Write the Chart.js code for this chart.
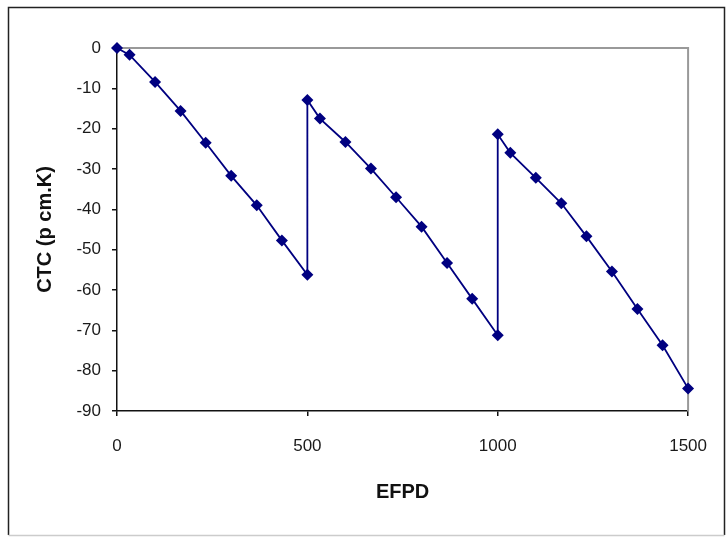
<!DOCTYPE html>
<html>
<head>
<meta charset="utf-8">
<script src="https://cdn.jsdelivr.net/npm/chart.js@4/dist/chart.umd.min.js"></script>
<style>
  body { margin: 0; background: #fff; }
  canvas { display: block; }
</style>
</head>
<body>
<canvas id="myChart" width="727" height="537"></canvas>
<script>
// values
var efpd = [0, 33, 100, 167, 233, 300, 367, 433, 500,
            500, 533, 600, 667, 733, 800, 867, 933, 1000,
            1000, 1033, 1100, 1167, 1233, 1300, 1367, 1433, 1500];
var ctc = [0, -1.7, -8.4, -15.6, -23.5, -31.7, -39.0, -47.7, -56.2,
           -12.9, -17.5, -23.3, -29.9, -37.0, -44.3, -53.3, -62.2, -71.2,
           -21.4, -26.0, -32.2, -38.5, -46.7, -55.4, -64.7, -73.7, -84.4];
var xTicks = [0, 500, 1000, 1500];
var yTitle = "CTC (p cm.K)";
var xTitle = "EFPD";

var points = [];
for (let i = 0; i < efpd.length; i++) {
    points[i] = { x: efpd[i], y: ctc[i] };
}

// outer frame + grey top/right edge of the plot area
var framePlugin = {
    id: 'frame',
    beforeDraw: function (chart) {
        let ctx = chart.ctx;
        ctx.save();
        ctx.fillStyle = '#fff';
        ctx.fillRect(0, 0, chart.width, chart.height);
        ctx.lineWidth = 1.5;
        ctx.strokeStyle = '#222';
        ctx.beginPath();
        ctx.moveTo(8.5, 535);
        ctx.lineTo(8.5, 7.5);
        ctx.lineTo(724.5, 7.5);
        ctx.lineTo(724.5, 535);
        ctx.stroke();
        ctx.strokeStyle = '#ccc';
        ctx.beginPath();
        ctx.moveTo(8.5, 535.5);
        ctx.lineTo(724.5, 535.5);
        ctx.stroke();
        ctx.restore();
    },
    beforeDatasetsDraw: function (chart) {
        let a = chart.chartArea;
        let ctx = chart.ctx;
        ctx.save();
        ctx.strokeStyle = '#999';
        ctx.lineWidth = 2;
        ctx.beginPath();
        ctx.moveTo(a.left, a.top);
        ctx.lineTo(a.right, a.top);
        ctx.lineTo(a.right, a.bottom);
        ctx.stroke();
        ctx.restore();
    }
};

var ctx = document.getElementById('myChart').getContext('2d');
var myChart = new Chart(ctx, {
    type: 'line',
    data: {
        datasets: [{
            data: points,
            borderColor: '#000080',
            borderWidth: 1.8,
            backgroundColor: '#000080',
            pointStyle: 'rectRot',
            pointRadius: 6,
            pointBackgroundColor: '#000080',
            pointBorderColor: '#000080',
            pointBorderWidth: 0,
            tension: 0,
            fill: false,
            clip: false
        }]
    },
    options: {
        responsive: false,
        animation: false,
        devicePixelRatio: 1,
        layout: { padding: { left: 0, top: 48, right: 32, bottom: 0 } },
        plugins: {
            legend: { display: false },
            tooltip: { enabled: false }
        },
        scales: {
            x: {
                type: 'linear',
                min: 0,
                max: 1500,
                afterFit: function (scale) { scale.height = 126; },
                afterBuildTicks: function (scale) {
                    scale.ticks = xTicks.map(function (v) { return { value: v }; });
                },
                grid: { drawOnChartArea: false, drawTicks: true, tickLength: 5, color: '#111', lineWidth: 1.5 },
                border: { color: '#111', width: 1.5 },
                ticks: {
                    color: '#1a1a1a',
                    padding: 20,
                    maxRotation: 0,
                    callback: function (value) { return String(value); },
                    font: { family: 'Liberation Sans', size: 17 }
                },
                title: {
                    display: true,
                    text: xTitle,
                    color: '#111',
                    padding: { top: 0, bottom: 33 },
                    font: { family: 'Liberation Sans', size: 20, weight: 'bold' }
                }
            },
            y: {
                min: -90,
                max: 0,
                afterFit: function (scale) { scale.width = 117; },
                grid: { drawOnChartArea: false, drawTicks: true, tickLength: 5, color: '#111', lineWidth: 1.5 },
                border: { color: '#111', width: 1.5 },
                ticks: {
                    stepSize: 10,
                    color: '#1a1a1a',
                    padding: 11,
                    callback: function (value) { return String(value); },
                    font: { family: 'Liberation Sans', size: 17 }
                },
                title: {
                    display: true,
                    text: yTitle,
                    color: '#111',
                    padding: { top: 33, bottom: 0 },
                    font: { family: 'Liberation Sans', size: 20, weight: 'bold' }
                }
            }
        }
    },
    plugins: [framePlugin]
});
</script>
</body>
</html>
